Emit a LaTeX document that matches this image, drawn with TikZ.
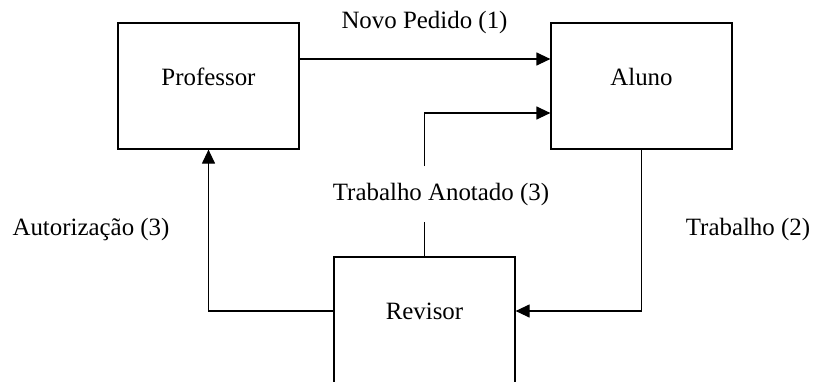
\documentclass[tikz,border=0pt]{standalone}
\usepackage{fontspec}
\setmainfont{Liberation Serif}
\usetikzlibrary{arrows.meta}
\tikzset{
  caixa/.style={draw,line width=0.6pt,minimum width=90.5pt,minimum height=63pt,inner sep=0pt},
  seta/.style={line width=0.6pt,-{Triangle[length=7pt,width=6.5pt]}},
  linha/.style={line width=0.6pt},
}
\begin{document}
\begin{tikzpicture}[x=0.5pt,y=-0.5pt,font=\fontsize{12.45}{15}\selectfont]
  \clip (0,0) rectangle (814,381);
  \foreach \n/\t/\x/\y in {prof/Professor/208.5/86,aluno/Aluno/641.5/86,rev/Revisor/424.5/320} {
    \node[caixa,label={[yshift=4.5pt]center:\t}] (\n) at (\x,\y) {};
  }
  \node (novo) at (424.5,23) {Novo Pedido (1)};
  \node (anot) at (441,195) {Trabalho Anotado (3)};
  \node (aut) at (91,230) {Autorização (3)};
  \node (trab) at (748,230) {Trabalho (2)};
  \coordinate (gapb) at (424.5,222);
  \coordinate (gapt) at (424.5,166);
  \draw[seta] ([yshift=13.5pt]prof.east) -- ([yshift=13.5pt]aluno.west);
  \draw[linha] (rev.north) -- (gapb);
  \draw[seta] (gapt) |- ([yshift=-13.5pt]aluno.west);
  \draw[seta] (aluno.south) |- ([yshift=4.5pt]rev.east);
  \draw[seta] ([yshift=4.5pt]rev.west) -| (prof.south);
\end{tikzpicture}
\end{document}
